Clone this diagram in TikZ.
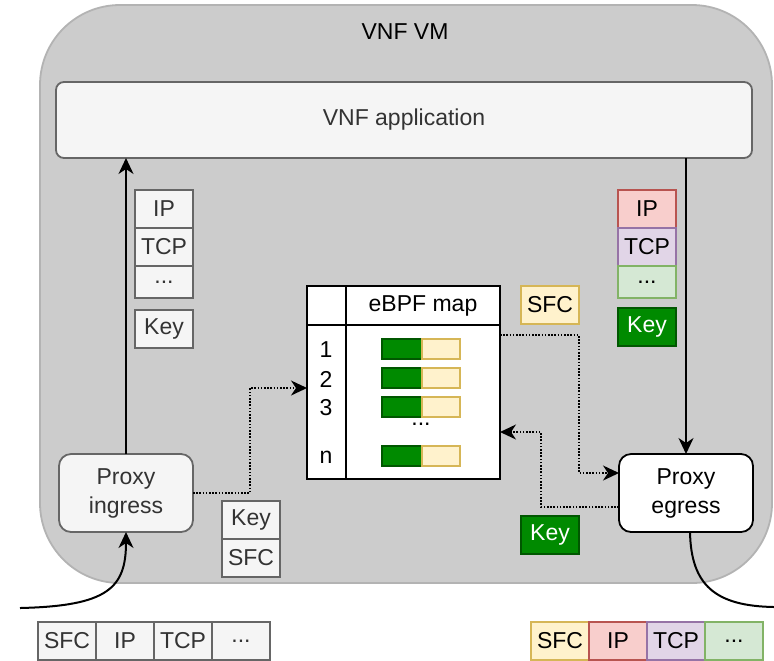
\documentclass[tikz,border=0pt]{standalone}
\usepackage{fontspec}
\setmainfont{Liberation Sans}
\usetikzlibrary{positioning, calc, arrows.meta}
\definecolor{vmfill}{HTML}{CCCCCC}
\definecolor{vmline}{HTML}{B3B3B3}
\definecolor{greyfill}{HTML}{F5F5F5}
\definecolor{greyline}{HTML}{666666}
\definecolor{greytext}{HTML}{333333}
\definecolor{sfcfill}{HTML}{FFF2CC}
\definecolor{sfcline}{HTML}{D6B656}
\definecolor{ipfill}{HTML}{F8CECC}
\definecolor{ipline}{HTML}{B85450}
\definecolor{tcpfill}{HTML}{E1D5E7}
\definecolor{tcpline}{HTML}{9673A6}
\definecolor{restfill}{HTML}{D5E8D4}
\definecolor{restline}{HTML}{82B366}
\definecolor{keyfill}{HTML}{008A00}
\definecolor{keyline}{HTML}{005700}

\begin{document}
\begin{tikzpicture}[
      x=0.5pt, y=-0.5pt,
      font=\fontsize{11.5}{14.5}\selectfont,
      every node/.style={inner sep=0pt, outer sep=0pt},
      vmbox/.style={draw=vmline, fill=vmfill, line width=0.9pt, rounded corners=40pt, anchor=north west},
      procbox/.style={line width=0.9pt, rounded corners=6pt, anchor=north west, align=center,
                      minimum width=67pt, minimum height=39pt},
      greybox/.style={draw=greyline, fill=greyfill, text=greytext},
      field/.style={line width=0.9pt, minimum width=29pt, minimum height=19pt, anchor=north west},
      greyfield/.style={field, greybox},
      sfcfield/.style={field, draw=sfcline, fill=sfcfill},
      ipfield/.style={field, draw=ipline, fill=ipfill},
      tcpfield/.style={field, draw=tcpline, fill=tcpfill},
      restfield/.style={field, draw=restline, fill=restfill},
      keyfield/.style={field, draw=keyline, fill=keyfill, text=white},
      bargreen/.style={draw=keyline, fill=keyfill, line width=0.6pt, minimum width=20pt, minimum height=10pt, anchor=west},
      baryellow/.style={draw=sfcline, fill=sfcfill, line width=0.6pt, minimum width=19pt, minimum height=10pt},
      flow/.style={-{Stealth[length=8pt, width=7.5pt, inset=2.5pt]}, line width=1pt},
      dotflow/.style={-{Stealth[length=8pt, width=7.5pt, inset=2.5pt]}, line width=0.9pt, dash pattern=on 0.8pt off 0.8pt}
    ]
      \useasboundingbox (0,0) rectangle (774,660);

      % Nodes
      \node[vmbox, minimum width=366pt, minimum height=289pt] (vm) at (40,5) {};
      \node (vmlabel) at (405,32) {VNF VM};
      \node[procbox, greybox, rounded corners=4pt, minimum width=348pt, minimum height=38pt] (app) at (56,82) {VNF application};
      \node[procbox, greybox] (ingress) at (59,454) {Proxy\\ingress};
      \node[procbox, draw, fill=white] (egress) at (619,454) {Proxy\\egress};

      % headers seen by the application
      \node[greyfield] (lip) at (135,190) {IP};
      \node[greyfield, below=0pt of lip] (ltcp) {TCP};
      \node[greyfield, below=0pt of ltcp, minimum height=16pt] (lrest) {...};
      \node[greyfield, below=6pt of lrest] (lkey) {Key};

      \node[ipfield] (rip) at (618,190) {IP};
      \node[tcpfield, below=0pt of rip] (rtcp) {TCP};
      \node[restfield, below=0pt of rtcp, minimum height=16pt] (rrest) {...};
      \node[keyfield, below=5pt of rrest] (rkey) {Key};

      % ingress output
      \node[greyfield] (ikey) at (222,501) {Key};
      \node[greyfield, below=0pt of ikey] (isfc) {SFC};

      % eBPF map
      \node[draw, fill=white, line width=0.9pt, minimum width=96.5pt, minimum height=96.5pt, anchor=north west] (map) at (307,286) {};
      \draw[line width=0.9pt] ($(map.north west)+(0,39)$) -- ($(map.north east)+(0,39)$);
      \draw[line width=0.9pt] ($(map.north west)+(39,0)$) -- ($(map.south west)+(39,0)$);
      \node (maptitle) at (423,306) {eBPF map};
      \foreach \row/\yy in {1/350, 2/379, 3/408, n/457} {
        \node (idx\row) at (326,\yy) {\row};
      }
      \foreach \row/\yy in {1/349, 2/378, 3/407, n/456} {
        \node[bargreen] (bk\row) at (382,\yy) {};
        \node[baryellow, right=0pt of bk\row] (bs\row) {};
      }
      \node (mapdots) at (421,424) {...};

      \node[sfcfield] (msfc) at (521,286) {SFC};
      \node[keyfield] (ekey) at (521,516) {Key};

      % packets on the wire
      \node[greyfield] (isfcw) at (38,622) {SFC};
      \node[greyfield, right=0pt of isfcw] (iipw) {IP};
      \node[greyfield, right=0pt of iipw] (itcpw) {TCP};
      \node[greyfield, right=0pt of itcpw] (irestw) {...};

      \node[sfcfield] (osfcw) at (531,622) {SFC};
      \node[ipfield, right=0pt of osfcw] (oipw) {IP};
      \node[tcpfield, right=0pt of oipw] (otcpw) {TCP};
      \node[restfield, right=0pt of otcpw] (orestw) {...};

      \coordinate (wirein) at (20,608);
      \coordinate (wireout) at (774,607);

      % Edges
      \draw[flow] (ingress) -- (ingress |- app.south);
      \draw[flow] (app.south -| egress) -- (egress);
      \draw[dotflow] (ingress.east) -- (250,493) |- (map.west |- 0,388);
      \draw[dotflow] (map.east |- 0,335) -| (579,473) -- ([yshift=10pt]egress.west);
      \draw[dotflow] ([yshift=-7pt]egress.west) -| (541,432) -- (map.east |- 0,432);
      \draw[flow] (wirein) .. controls (108,606) and (126,588) .. (ingress.south);
      \draw[line width=1pt] ([xshift=2pt]egress.south) .. controls (691,585) and (715,606) .. (wireout);
    \end{tikzpicture}
\end{document}
